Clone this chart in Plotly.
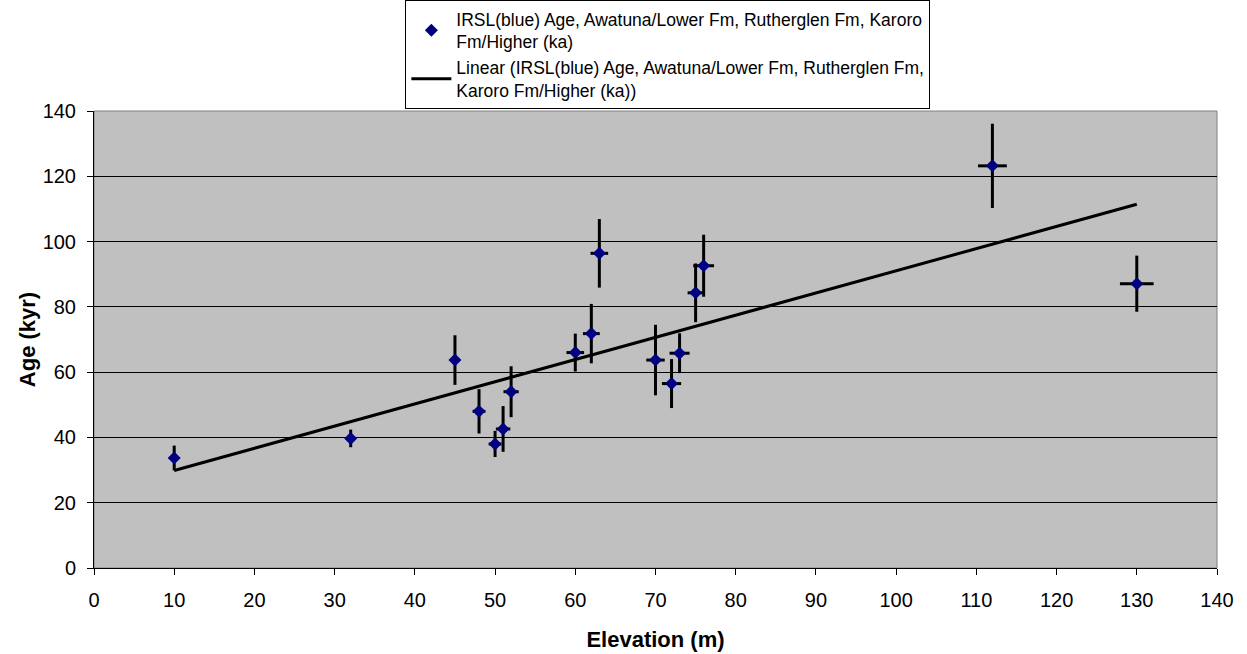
import numpy as np
import plotly.graph_objects as go

elevation = [10, 32, 45, 48, 50, 51, 52, 60, 62, 63, 70, 72, 73, 75, 76, 112, 130]
age = [33.7, 39.7, 63.7, 48.0, 38.0, 42.6, 54.0, 66.0, 71.8, 96.4, 63.7, 56.5, 65.8, 84.3, 92.6, 123.2, 87.1]
age_err = [3.8, 2.7, 7.6, 6.8, 4.0, 7.0, 7.8, 5.8, 9.1, 10.5, 10.8, 7.5, 6.1, 9.0, 9.5, 12.9, 8.6]
elev_err = [0, 0, 0, 0.8, 0.8, 0.9, 0.95, 1.1, 1.05, 1.1, 1.15, 1.2, 1.25, 1.0, 1.3, 1.8, 2.1]

series_name = "IRSL(blue) Age, Awatuna/Lower Fm, Rutherglen Fm, Karoro<br>Fm/Higher (ka)"
trend_name = "Linear (IRSL(blue) Age, Awatuna/Lower Fm, Rutherglen Fm,<br>Karoro Fm/Higher (ka))"

slope, intercept = np.polyfit(elevation, age, 1)
tx = [min(elevation), max(elevation)]
ty = [slope * v + intercept for v in tx]

fig = go.Figure()
fig.add_trace(go.Scatter(
    x=elevation, y=age, mode="markers", name=series_name,
    marker=dict(symbol="diamond", size=10, color="#000080"),
    error_y=dict(type="data", array=age_err, visible=True, color="black", thickness=3, width=0),
    error_x=dict(type="data", array=elev_err, visible=True, color="black", thickness=3, width=0),
))
fig.add_trace(go.Scatter(
    x=tx, y=ty, mode="lines", name=trend_name,
    line=dict(color="black", width=3),
))

font = "Liberation Sans, Arial, sans-serif"
fig.update_layout(
    width=1247, height=654,
    margin=dict(l=94, r=30, t=111, b=86, autoexpand=False),
    paper_bgcolor="white", plot_bgcolor="#C0C0C0",
    font=dict(family=font, size=20, color="black"),
    showlegend=True,
    legend=dict(
        x=0.511, xanchor="center", y=1.243, yanchor="top",
        bordercolor="black", borderwidth=1, bgcolor="white",
        font=dict(family=font, size=17.5, color="black"),
        tracegroupgap=0, itemwidth=40,
    ),
    xaxis=dict(
        range=[0, 140], dtick=10, tick0=0,
        showgrid=False, zeroline=False,
        showline=True, linecolor="black", linewidth=1,
        ticks="outside", ticklen=6, tickcolor="black",
        tickfont=dict(size=20), ticklabelstandoff=8,
        title=dict(text="<b>Elevation (m)</b>", font=dict(family=font, size=22), standoff=21),
    ),
    yaxis=dict(
        range=[0, 140], dtick=20, tick0=0,
        showgrid=True, gridcolor="black", gridwidth=1, zeroline=False,
        showline=True, linecolor="black", linewidth=1,
        ticks="outside", ticklen=6, tickcolor="black",
        tickfont=dict(size=20), ticklabelstandoff=7,
        title=dict(text="<b>Age (kyr)</b>", font=dict(family=font, size=22), standoff=0),
    ),
    shapes=[dict(type="rect", xref="paper", yref="paper", x0=0, x1=1, y0=0, y1=1,
                 line=dict(color="#808080", width=1), layer="below")],
)

fig.write_html("out.html")
